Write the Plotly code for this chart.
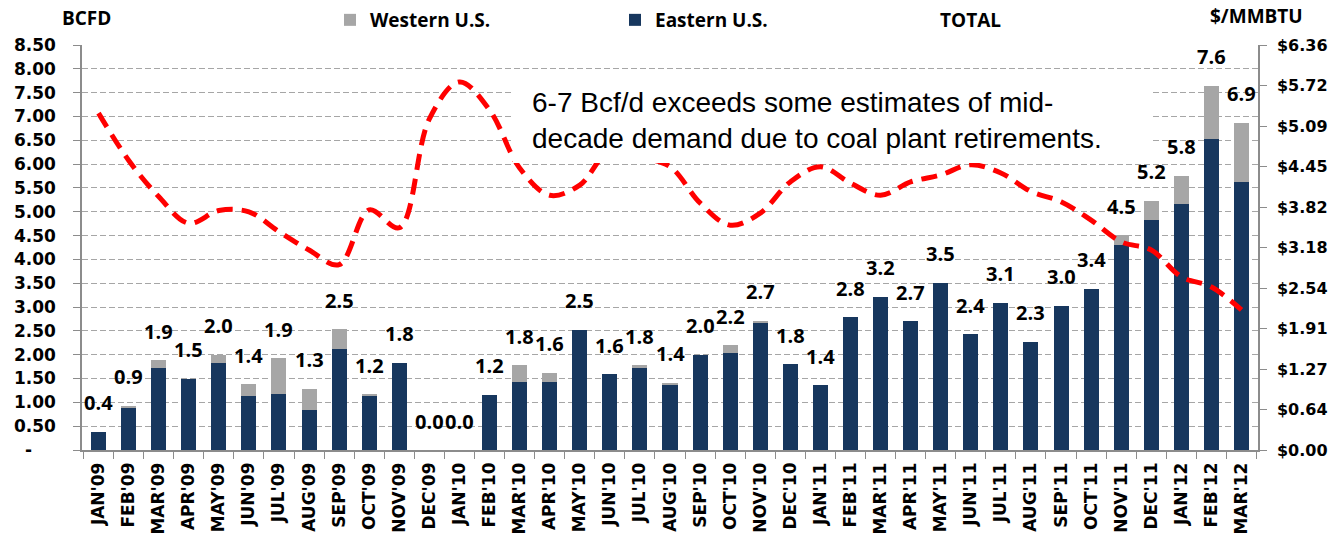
import plotly.graph_objects as go

# months on the category axis
months = ["JAN'09", "FEB'09", "MAR'09", "APR'09", "MAY'09", "JUN'09", "JUL'09", "AUG'09",
          "SEP'09", "OCT'09", "NOV'09", "DEC'09", "JAN'10", "FEB'10", "MAR'10", "APR'10",
          "MAY'10", "JUN'10", "JUL'10", "AUG'10", "SEP'10", "OCT'10", "NOV'10", "DEC'10",
          "JAN'11", "FEB'11", "MAR'11", "APR'11", "MAY'11", "JUN'11", "JUL'11", "AUG'11",
          "SEP'11", "OCT'11", "NOV'11", "DEC'11", "JAN'12", "FEB'12", "MAR'12"]

# BCFD
eastern = [0.38, 0.89, 1.72, 1.50, 1.83, 1.14, 1.18, 0.83, 2.13, 1.15, 1.83, 0.00, 0.00,
           1.16, 1.43, 1.43, 2.52, 1.59, 1.73, 1.36, 2.00, 2.03, 2.67, 1.80, 1.36, 2.79,
           3.22, 2.70, 3.51, 2.43, 3.09, 2.27, 3.03, 3.38, 4.30, 4.83, 5.16, 6.52, 5.62]
western = [0.00, 0.04, 0.16, 0.00, 0.17, 0.24, 0.75, 0.46, 0.40, 0.02, 0.00, 0.00, 0.00,
           0.00, 0.35, 0.19, 0.00, 0.00, 0.05, 0.05, 0.00, 0.17, 0.04, 0.00, 0.00, 0.00,
           0.00, 0.00, 0.00, 0.00, 0.00, 0.00, 0.00, 0.00, 0.21, 0.40, 0.60, 1.12, 1.25]

# $/MMBTU
price = [5.29, 4.55, 3.98, 3.56, 3.76, 3.74, 3.43, 3.14, 2.91, 3.77, 3.49, 5.20,
         5.78, 5.34, 4.43, 4.00, 4.16, 4.70, 4.60, 4.45, 3.88, 3.53, 3.72, 4.21,
         4.45, 4.19, 4.00, 4.21, 4.32, 4.48, 4.35, 4.06, 3.90, 3.61, 3.27, 3.14,
         2.72, 2.56, 2.20]

left_ticks = [0, 0.5, 1.0, 1.5, 2.0, 2.5, 3.0, 3.5, 4.0, 4.5, 5.0, 5.5, 6.0, 6.5, 7.0, 7.5, 8.0, 8.5]
left_labels = ["-\u00a0\u00a0\u00a0\u00a0", "0.50", "1.00", "1.50", "2.00", "2.50", "3.00", "3.50",
               "4.00", "4.50", "5.00", "5.50", "6.00", "6.50", "7.00", "7.50", "8.00", "8.50"]
right_ticks = [0, 0.636, 1.272, 1.908, 2.544, 3.18, 3.816, 4.452, 5.088, 5.724, 6.36]
right_labels = ["$0.00", "$0.64", "$1.27", "$1.91", "$2.54", "$3.18", "$3.82", "$4.45",
                "$5.09", "$5.72", "$6.36"]

total = [round(e + w, 2) for e, w in zip(eastern, western)]

W, H = 1332, 540
ML, MR, MT, MB = 82, 74, 45, 90
PW, PH = W - ML - MR, H - MT - MB


def px(x):
    return (x - ML) / PW


def py(y):
    return (H - MB - y) / PH


fig = go.Figure()

fig.add_trace(go.Bar(
    x=months, y=eastern, name="Eastern U.S.",
    marker=dict(color="#17375e", line=dict(width=0)),
    legendrank=2,
))
fig.add_trace(go.Bar(
    x=months, y=western, name="Western U.S.",
    marker=dict(color="#a6a6a6", line=dict(width=0)),
    legendrank=1,
))
fig.add_trace(go.Scatter(
    x=months, y=total, name="TOTAL", mode="lines",
    line=dict(color="rgba(0,0,0,0)", width=1),
    legendrank=3, hoverinfo="skip",
))
fig.add_trace(go.Scatter(
    x=months, y=price, name="Price", mode="lines", yaxis="y2",
    line=dict(color="#ff0000", width=5, dash="16px,9px", shape="spline", smoothing=1),
    showlegend=False,
))

# total labels above each bar
for m, t in zip(months, total):
    fig.add_annotation(
        x=m, y=t, text="%.1f" % t, showarrow=False,
        yshift=29, yanchor="middle",
        font=dict(family="Open Sans", size=20, color="black", weight="bold"),
    )

# white call-out box over the chart
fig.add_shape(type="rect", xref="paper", yref="paper",
              x0=px(513), x1=px(1150), y0=py(163), y1=py(75),
              fillcolor="white", line=dict(width=0), layer="above")
fig.add_annotation(
    xref="paper", yref="paper", x=px(530), y=py(120),
    xanchor="left", yanchor="middle", align="left", showarrow=False,
    text="6-7 Bcf/d exceeds some estimates of mid-<br>decade demand due to coal plant retirements.",
    font=dict(family="Liberation Sans", size=28, color="black"),
)

# axis titles
fig.add_annotation(xref="paper", yref="paper", x=px(86), y=py(18),
                   text="BCFD", showarrow=False, xanchor="center", yanchor="middle",
                   font=dict(family="Open Sans", size=19, color="black", weight="bold"))
fig.add_annotation(xref="paper", yref="paper", x=px(1256), y=py(16),
                   text="$/MMBTU", showarrow=False, xanchor="center", yanchor="middle",
                   font=dict(family="Open Sans", size=19, color="black", weight="bold"))

fig.update_layout(
    width=W, height=H,
    margin=dict(l=ML, r=MR, t=MT, b=MB, autoexpand=False),
    barmode="stack", bargap=0.5,
    plot_bgcolor="white", paper_bgcolor="white",
    legend=dict(orientation="h", xref="container", yref="container",
                x=330 / W, y=1 - 20 / H, xanchor="left", yanchor="middle",
                traceorder="normal",
                entrywidth=240, entrywidthmode="pixels",
                font=dict(family="Open Sans", size=19, color="black", weight="bold"),
                bgcolor="rgba(0,0,0,0)"),
    xaxis=dict(
        type="category", tickangle=-90, tickson="boundaries",
        ticks="outside", ticklen=7, tickcolor="#8c8c8c",
        showline=True, linecolor="#8c8c8c", linewidth=1.5,
        showgrid=False, ticklabelstandoff=4,
        tickfont=dict(family="DejaVu Sans", size=17, color="black", weight="bold"),
    ),
    yaxis=dict(
        range=[0, 8.5], tickvals=left_ticks, ticktext=left_labels,
        ticks="outside", ticklen=7, tickcolor="#8c8c8c",
        showline=True, linecolor="#8c8c8c", linewidth=1.5,
        showgrid=True, gridcolor="#a6a6a6", griddash="6px,3px", gridwidth=1,
        zeroline=False, ticklabelstandoff=14,
        tickfont=dict(family="DejaVu Sans", size=17, color="black", weight="bold"),
    ),
    yaxis2=dict(
        range=[0, 6.36], tickvals=right_ticks, ticktext=right_labels,
        overlaying="y", side="right",
        ticks="outside", ticklen=7, tickcolor="#8c8c8c",
        showline=True, linecolor="#8c8c8c", linewidth=1.5,
        showgrid=False, zeroline=False, ticklabelstandoff=7,
        tickfont=dict(family="DejaVu Sans", size=16, color="black", weight="bold"),
    ),
)

# page body has an 8px default margin; drop it so the chart sits at the origin
fig.write_html("out.html", config={"displayModeBar": False},
               post_script="document.body.style.margin='0px';")
